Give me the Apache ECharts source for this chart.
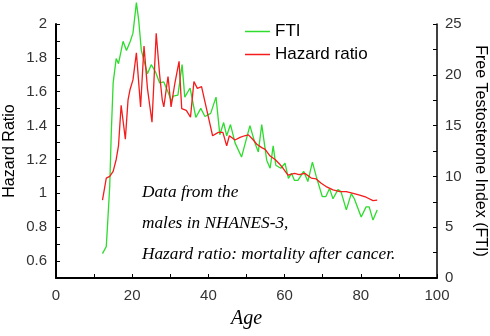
<!DOCTYPE html>
<html>
<head>
<meta charset="utf-8">
<script src="https://cdn.jsdelivr.net/npm/echarts@6/dist/echarts.min.js"></script>
<style>
  html, body { margin: 0; padding: 0; background: #fff; }
  #chart { width: 490px; height: 336px; }
</style>
</head>
<body>
<div id="chart"></div>
<script>
// Hazard ratio (mortality after cancer) by age
const hazardAges = [12.2, 13.2, 14.1, 15.0, 15.8, 16.4, 17.1, 18.2, 18.9, 19.4, 20.2, 21.1, 22.2, 23.1, 24.0, 25.2,
  26.3, 27.2, 27.9, 28.3, 29.4, 30.2, 31.2, 32.3, 33.0, 34.2, 35.3, 36.2, 37.1, 38.2, 39.1, 40.0, 41.1, 42.6,
  43.8, 44.8, 45.5, 47.0, 48.3, 49.5, 50.5, 51.8, 52.7, 54.0, 54.9, 56.2, 57.5, 58.8, 59.6, 60.9, 62.6, 63.8,
  65.3, 67.0, 68.3, 69.6, 70.9, 72.7, 74.5, 76.2, 78.0, 79.7, 81.4, 83.2, 84.3];
const hazardValues = [0.96, 1.09, 1.10, 1.13, 1.20, 1.28, 1.52, 1.32, 1.55, 1.61, 1.67, 1.83, 1.51, 1.87, 1.62, 1.42,
  1.945, 1.70, 1.55, 1.51, 1.69, 1.51, 1.65, 1.78, 1.50, 1.49, 1.45, 1.66, 1.62, 1.63, 1.54, 1.45, 1.34, 1.36,
  1.36, 1.28, 1.34, 1.315, 1.33, 1.34, 1.345, 1.315, 1.29, 1.27, 1.26, 1.22, 1.20, 1.17, 1.148, 1.108, 1.118, 1.11,
  1.118, 1.09, 1.085, 1.06, 1.04, 1.02, 1.01, 1.01, 1.00, 0.99, 0.977, 0.957, 0.96];

// Free Testosterone Index by age
const ftiAges = [12.2, 13.2, 13.6, 14.1, 14.5, 15.0, 15.8, 16.4, 17.6, 18.5, 19.5, 20.2, 21.1, 21.7, 22.4, 24.0,
  25.0, 26.1, 27.2, 28.3, 29.4, 30.3, 30.8, 32.0, 33.1, 33.8, 35.2, 36.7, 38.0, 39.1, 40.6, 42.0, 43.0, 44.0,
  44.8, 45.8, 47.0, 48.7, 50.9, 52.2, 53.1, 54.0, 55.3, 56.2, 57.0, 57.7, 59.0, 60.1, 61.0, 61.8, 62.6, 63.5,
  65.0, 66.1, 67.3, 68.3, 69.9, 70.8, 71.8, 72.7, 74.0, 74.8, 76.2, 77.5, 78.3, 80.1, 81.4, 82.2, 83.2, 84.3];
const ftiValues = [2.4, 3.1, 5.7, 9.0, 14.2, 19.2, 21.6, 21.1, 23.3, 22.4, 23.3, 24.1, 27.1, 25.4, 22.4, 20.1,
  21.0, 20.3, 19.2, 19.3, 18.3, 17.4, 17.9, 18.0, 21.0, 17.8, 18.7, 15.8, 16.7, 15.9, 16.2, 17.8, 14.1, 15.3,
  14.0, 15.1, 13.3, 11.9, 15.0, 13.3, 12.4, 15.1, 11.6, 10.8, 13.0, 11.1, 10.8, 11.3, 9.8, 10.3, 9.6, 9.6,
  10.5, 9.5, 11.4, 10.0, 8.0, 8.0, 8.8, 7.8, 8.7, 8.5, 6.7, 8.3, 7.8, 6.0, 7.0, 7.0, 5.7, 6.7];

const noteLines = ['Data from the', 'males in NHANES-3,', 'Hazard ratio: mortality after cancer.'];

const zip = (xs, ys) => xs.map((x, i) => [x, ys[i]]);

const sans = 'Liberation Sans, Arial, sans-serif';
const tickLabel = { color: '#333', fontSize: 15, fontFamily: sans };
const axisName = { color: '#000', fontSize: 16, fontFamily: sans };
const scriptFont = 'Liberation Serif, DejaVu Serif, serif';
const ftiColor = '#2ddc2d';
const hazardColor = '#f41c1c';

const chart = echarts.init(document.getElementById('chart'), null, { renderer: 'canvas' });

// Annotation block inside the plot, plus the left axis title
const graphics = noteLines.map((t, i) => ({
  type: 'text',
  left: 142,
  top: 184 + i * 31,
  style: { text: t, fill: '#000', font: 'italic 17.3px ' + scriptFont }
}));
graphics.push({
  type: 'text',
  x: 10,
  y: 151,
  rotation: Math.PI / 2,
  style: {
    text: 'Hazard Ratio',
    fill: '#000',
    font: '16px ' + sans,
    align: 'center',
    verticalAlign: 'middle'
  }
});

chart.setOption({
  animation: false,
  backgroundColor: '#fff',
  grid: { left: 56, right: 53, top: 24, bottom: 58, containLabel: false, outerBoundsMode: 'none' },
  legend: {
    orient: 'vertical',
    left: 245,
    top: 23,
    padding: 0,
    itemWidth: 25,
    itemHeight: 1.5,
    itemGap: 6,
    textStyle: { color: '#000', fontSize: 17, fontFamily: sans },
    data: [
      { name: 'FTI', icon: 'rect', itemStyle: { color: ftiColor } },
      { name: 'Hazard ratio', icon: 'rect', itemStyle: { color: hazardColor } }
    ]
  },
  xAxis: {
    type: 'value',
    min: 0, max: 100, interval: 20,
    name: 'Age',
    nameLocation: 'middle',
    nameGap: 31,
    nameTextStyle: { color: '#000', fontSize: 20, fontStyle: 'italic', fontFamily: scriptFont },
    axisLine: { lineStyle: { color: '#000', width: 2 } },
    axisTick: { inside: true, length: 4, lineStyle: { color: '#000' } },
    minorTick: { show: true, splitNumber: 2, length: 4, lineStyle: { color: '#000' } },
    axisLabel: Object.assign({ margin: 10 }, tickLabel),
    splitLine: { show: false }
  },
  yAxis: [
    {
      type: 'value',
      position: 'left',
      min: 0.5, max: 2, interval: 0.1,
      axisLine: { show: true, lineStyle: { color: '#000', width: 2 } },
      axisTick: { show: true, inside: true, length: 4, lineStyle: { color: '#000' } },
      axisLabel: Object.assign({
        margin: 9,
        formatter: v => {
          const k = Math.round(v * 10);
          return k % 2 === 0 ? String(k / 10) : '';
        }
      }, tickLabel),
      splitLine: { show: false }
    },
    {
      type: 'value',
      position: 'right',
      min: 0, max: 25, interval: 5,
      name: 'Free Testosterone Index (FTI)',
      nameLocation: 'middle',
      nameGap: 32,
      nameRotate: -90,
      nameTextStyle: axisName,
      axisLine: { show: true, lineStyle: { color: '#000', width: 1.5 } },
      axisTick: { show: true, inside: true, length: 4, lineStyle: { color: '#000' } },
      minorTick: { show: true, splitNumber: 2, length: 4, lineStyle: { color: '#000' } },
      axisLabel: Object.assign({ margin: 8 }, tickLabel),
      splitLine: { show: false }
    }
  ],
  graphic: graphics,
  series: [
    {
      name: 'FTI',
      type: 'line',
      yAxisIndex: 1,
      symbol: 'none',
      clip: false,
      lineStyle: { color: ftiColor, width: 1.3 },
      itemStyle: { color: ftiColor },
      data: zip(ftiAges, ftiValues)
    },
    {
      name: 'Hazard ratio',
      type: 'line',
      yAxisIndex: 0,
      symbol: 'none',
      clip: false,
      lineStyle: { color: hazardColor, width: 1.3 },
      itemStyle: { color: hazardColor },
      data: zip(hazardAges, hazardValues)
    }
  ]
});
</script>
</body>
</html>
